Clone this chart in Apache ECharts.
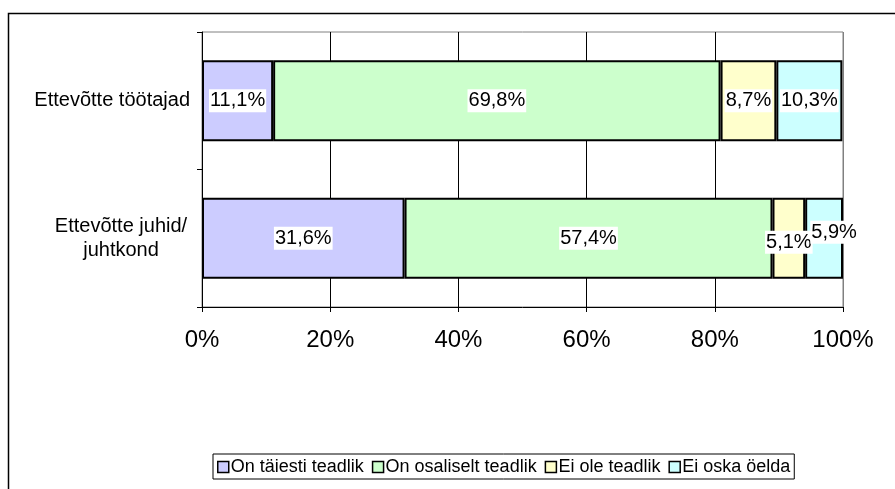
<!DOCTYPE html>
<html>
<head>
<meta charset="utf-8">
<script src="https://cdn.jsdelivr.net/npm/echarts@6/dist/echarts.min.js"></script>
<style>
  html, body { margin: 0; padding: 0; background: #fff; }
  #chart { width: 895px; height: 489px; }
</style>
</head>
<body>
<div id="chart"></div>
<script>
// andmed
const categories = ['Ettevõtte töötajad', 'Ettevõtte juhid/\njuhtkond'];
const seriesNames = ['On täiesti teadlik', 'On osaliselt teadlik', 'Ei ole teadlik', 'Ei oska öelda'];
const taielikult = [11.1, 31.6];
const osaliselt = [69.8, 57.4];
const eiOle = [8.7, 5.1];
const eiOska = [10.3, 5.9];
const xTicks = [0, 20, 40, 60, 80, 100];

const colors = ['#CCCCFF', '#CCFFCC', '#FFFFCC', '#CCFFFF'];
const FONT = 'Liberation Sans, Arial, sans-serif';

// väikeste siltide nihked (teine rida kattub)
const labelOffsets = [
  [[0, 0], [0, 0]],
  [[0, 0], [0, 0]],
  [[0, 0], [0, 4]],
  [[0, 0], [10, -6]],
];

const chart = echarts.init(document.getElementById('chart'));

const makeSeries = (name, values, i) => ({
  name: name,
  type: 'bar',
  stack: 'total',
  barCategoryGap: '41%',
  itemStyle: { color: colors[i], borderColor: '#000', borderWidth: 2 },
  label: {
    show: true,
    position: 'inside',
    color: '#000',
    fontFamily: FONT,
    fontSize: 20,
    backgroundColor: '#fff',
    padding: [2, 1, 1, 1],
    formatter: (p) => String(p.value).replace('.', ',') + '%',
  },
  data: values.map((v, j) => ({ value: v, label: { offset: labelOffsets[i][j] } })),
});

const option = {
  animation: false,
  textStyle: { fontFamily: FONT },
  grid: {
    left: 202, right: 52, top: 32, bottom: 182,
    show: true, borderColor: '#808080', borderWidth: 1,
  },
  xAxis: {
    type: 'value',
    min: xTicks[0],
    max: xTicks[xTicks.length - 1],
    interval: 20,
    axisLine: { show: true, lineStyle: { color: '#000', width: 1 } },
    axisTick: { show: true, length: 5, lineStyle: { color: '#000' } },
    splitLine: {
      show: true,
      lineStyle: { color: ['#000', '#000', '#000', '#000', '#000', '#808080'], width: 1 },
    },
    axisLabel: {
      color: '#000', fontSize: 24, fontFamily: FONT, margin: 21,
      formatter: (v) => v + '%',
    },
  },
  yAxis: {
    type: 'category',
    inverse: true,
    data: categories,
    axisLine: { show: true, lineStyle: { color: '#000', width: 1 } },
    axisTick: { show: true, length: 5, lineStyle: { color: '#000' } },
    axisLabel: {
      color: '#000', fontSize: 20, fontFamily: FONT, margin: 12, lineHeight: 24,
      formatter: (v) => v.indexOf('\n') >= 0
        ? v.split('\n').map((s) => '{w|' + s + '}').join('\n')
        : v,
      rich: { w: { width: 138, align: 'center', fontSize: 20, lineHeight: 24, color: '#000' } },
    },
  },
  legend: {
    left: 213,
    top: 454,
    icon: 'rect',
    itemWidth: 11,
    itemHeight: 11,
    itemGap: 8,
    padding: [4, 4, 3, 4],
    borderColor: '#000',
    borderWidth: 1,
    textStyle: { color: '#000', fontSize: 18, fontFamily: FONT, padding: [0, 0, 0, -3] },
    itemStyle: { borderColor: '#000', borderWidth: 1.5 },
    data: seriesNames,
  },
  graphic: [{
    type: 'rect',
    shape: { x: 8.5, y: 13.5, width: 1000, height: 1000 },
    style: { fill: 'none', stroke: '#000', lineWidth: 1.5 },
    silent: true,
    z: -1,
  }],
  series: [
    makeSeries(seriesNames[0], taielikult, 0),
    makeSeries(seriesNames[1], osaliselt, 1),
    makeSeries(seriesNames[2], eiOle, 2),
    makeSeries(seriesNames[3], eiOska, 3),
  ],
};

chart.setOption(option);
</script>
</body>
</html>
